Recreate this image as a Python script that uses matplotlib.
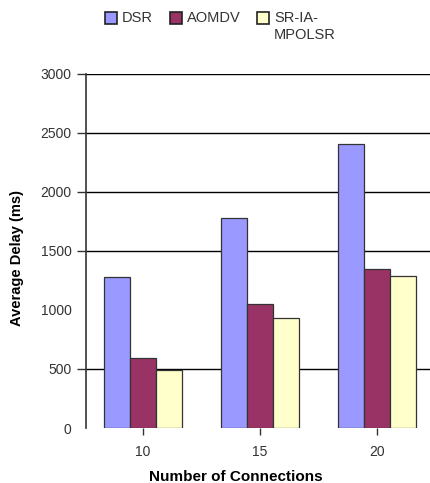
import matplotlib.pyplot as plt
from matplotlib.patches import Rectangle
import numpy as np

connections = ['10', '15', '20']
dsr = [1280, 1780, 2410]
aomdv = [590, 1055, 1350]
sr_ia_mpolsr = [490, 930, 1285]
series_names = ['DSR', 'AOMDV', 'SR-IA-\nMPOLSR']
series_colors = ['#9999FF', '#993366', '#FFFFCC']
y_ticks = [0, 500, 1000, 1500, 2000, 2500, 3000]
grid_levels = [500, 1500, 2000, 2500, 3000]

plt.rcParams['font.family'] = ['Liberation Sans', 'DejaVu Sans']
txt = '#333333'

fig = plt.figure(figsize=(4.3, 4.83), dpi=100)
ax = fig.add_axes([86 / 430, 1 - 428 / 483, 346 / 430, 354 / 483])

x = np.arange(len(connections))
w = 0.223
edge = '#333333'
for i, vals in enumerate([dsr, aomdv, sr_ia_mpolsr]):
    ax.bar(x + (i - 1) * w, vals, w, color=series_colors[i], edgecolor=edge,
           linewidth=0.9, zorder=3)

# horizontal gridlines
for lv in grid_levels:
    ax.axhline(lv, color='black', linewidth=1.0, zorder=1)

ax.set_xlim(-0.49, 2.475)
ax.set_ylim(0, 3000)
ax.set_xticks(x)
ax.set_xticklabels(connections, fontsize=10, color=txt)
ax.set_yticks(y_ticks)
ax.set_yticklabels([str(v) for v in y_ticks], fontsize=10, color=txt)

# no tick marks at 0 and 1000
ylines = ax.yaxis.get_ticklines()
for i, v in enumerate(y_ticks):
    if v in (0, 1000):
        ylines[2 * i].set_visible(False)

ax.tick_params(axis='y', length=6.5, width=1, color=txt, pad=4)
ax.tick_params(axis='x', length=5, width=1, color=txt, pad=7)

for s in ['top', 'right', 'bottom']:
    ax.spines[s].set_visible(False)
ax.spines['left'].set_color(txt)
ax.spines['left'].set_linewidth(1.2)

ax.set_ylabel('Average Delay (ms)', fontsize=10.5, fontweight='bold', va='center')
ax.set_xlabel('Number of Connections', fontsize=11, fontweight='bold', va='center')
ax.yaxis.set_label_coords(-0.199, 0.48)
ax.xaxis.set_label_coords(0.434, -0.138)

# legend drawn on the figure: swatch + label, top-aligned
leg_x = [105, 170, 257]
for lx, name, col in zip(leg_x, series_names, series_colors):
    fig.patches.append(Rectangle((lx / 430, 1 - 24 / 483), 12 / 430, 12 / 483,
                                 transform=fig.transFigure, facecolor=col,
                                 edgecolor='#222222', linewidth=1.2))
    fig.text((lx + 17) / 430, 1 - 11 / 483, name, fontsize=10.5, color=txt,
             va='top', ha='left', linespacing=1.3)

fig.savefig('out.png', dpi=100)
